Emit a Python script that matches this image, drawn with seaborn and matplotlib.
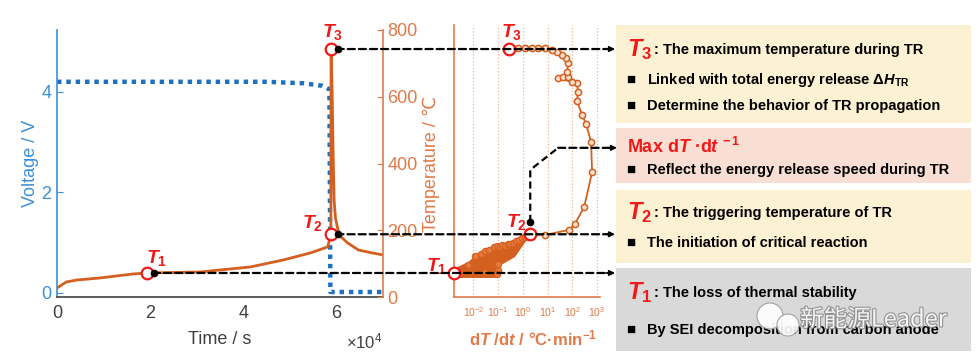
import matplotlib
matplotlib.use('Agg')
import matplotlib.pyplot as plt
import matplotlib.patheffects as pe
import seaborn as sns
from matplotlib.patches import Rectangle, ConnectionPatch, Ellipse
from matplotlib.transforms import blended_transform_factory, ScaledTranslation
from matplotlib.ticker import FuncFormatter, NullLocator

# ---- data ----
# voltage curve (time in s, voltage in V)
volt_time = [0, 45000, 53000, 57000, 58500, 58700, 58800, 70000]
volt_value = [4.2, 4.2, 4.17, 4.12, 4.05, 0.02, 0.02, 0.02]

# temperature curve (time in s, temperature in C)
temp_time = [0, 2000, 4300, 9200, 16300, 19400, 30800, 41500, 48600, 54400, 58100,
             58600, 58800, 58850, 59100, 59300, 59500, 59800, 60200, 60600, 62400,
             64700, 67700, 70000]
temp_value = [27, 45, 51, 57, 69, 72, 75, 90, 111, 132, 150,
              175, 188, 743, 600, 420, 290, 235, 210, 185, 162,
              141, 132, 126]

# characteristic points on the time plot
t_points_time = [19400, 58800, 58850]
t_points_temp = [72, 188, 743]

# dT/dt curve after T2 (rate in C/min, temperature in C)
rate_value = [2.0, 7.9, 74, 129, 302, 631, 575, 363, 251, 155, 170, 155, 98, 27, 43,
              68, 62, 68, 56, 39, 25, 15.5, 7.9, 4.2, 2.4, 1.26, 0.65, 0.28]
rate_temp = [188, 186, 201, 219, 270, 374, 464, 518, 545, 587, 614, 641, 644, 656, 659,
             659, 674, 701, 716, 725, 734, 740, 745, 746, 746, 746, 746, 743]

# dense cloud between T1 and T2 (outline + visible bubbles)
cloud_rate = [0.0016, 0.0019, 0.0063, 0.016, 0.054, 0.10, 0.21, 0.49, 1.66,
              1.66, 0.49, 0.135, 0.10, 0.0016]
cloud_temp = [62, 87, 105, 132, 147, 153, 153, 165, 186,
              177, 120, 96, 57, 57]
bubble_rate = [0.012, 0.02, 0.03, 0.045, 0.07, 0.09, 0.12, 0.15, 0.2, 0.25, 0.3,
               0.4, 0.55, 0.7, 0.9, 1.2, 0.1, 0.09, 0.1, 0.03, 0.006]
bubble_temp = [122, 130, 137, 142, 150, 153, 151, 156, 153, 158, 160,
               163, 168, 172, 176, 180, 80, 68, 100, 75, 95]

# characteristic points on the dT/dt plot
r_points_rate = [0.0017, 2.0, 0.28]
r_points_temp = [72, 188, 743]

# guide path from T2 up to Max dT/dt box
max_path_rate = [2.0, 2.0, 27]
max_path_temp = [225, 381, 447]

BLUE_AX = '#3d8fd6'
BLUE_LINE = '#1f70c0'
ORANGE_AX = '#e07a48'
ORANGE_LINE = '#d45f1e'
RED = '#f01818'
GREY_TXT = '#404040'
YELLOW_BOX = '#fdf1d3'
PINK_BOX = '#f9ded3'
GREY_BOX = '#d9d9d9'

sns.set_style('white')
plt.rcParams['font.family'] = ['Liberation Sans', 'DejaVu Sans']
plt.rcParams['mathtext.fontset'] = 'custom'
plt.rcParams['mathtext.it'] = 'Liberation Sans:italic:bold'
plt.rcParams['mathtext.rm'] = 'Liberation Sans:bold'
plt.rcParams['mathtext.bf'] = 'Liberation Sans:bold'

W, H = 979, 364
fig = plt.figure(figsize=(W / 100, H / 100), dpi=100)


def fx(x):
    return x / W


def fy(y):
    return 1 - y / H


# ---- left plot: voltage / temperature vs time ----
ax_v = fig.add_axes([fx(57), fy(297), (383 - 57) / W, (297 - 30) / H])
ax_t = ax_v.twinx()

sns.lineplot(x=volt_time, y=volt_value, ax=ax_v, color=BLUE_LINE, linewidth=3.2,
             linestyle=(0, (1, 1.1)), sort=False, estimator=None)
ax_v.lines[-1].set_dash_capstyle('butt')
sns.lineplot(x=temp_time, y=temp_value, ax=ax_t, color=ORANGE_LINE, linewidth=2,
             sort=False, estimator=None)

ax_v.set_xlim(0, 70000)
ax_v.set_ylim(-0.08, 5.23)
ax_t.set_ylim(0, 800)
ax_v.set_xticks([0, 20000, 40000, 60000])
ax_v.xaxis.set_major_formatter(FuncFormatter(lambda v, p: f'{v / 1e4:.0f}'))
ax_v.set_yticks([0, 2, 4])
ax_t.set_yticks([0, 200, 400, 600, 800])

for sp in ['top', 'right']:
    ax_v.spines[sp].set_visible(False)
ax_v.spines['left'].set_color(BLUE_AX)
ax_v.spines['bottom'].set_color(GREY_TXT)
for sp in ['top', 'left', 'bottom']:
    ax_t.spines[sp].set_visible(False)
ax_t.spines['right'].set_color(ORANGE_AX)
for sp in ax_v.spines.values():
    sp.set_linewidth(1.2)
ax_t.spines['right'].set_linewidth(1.2)

ax_v.tick_params(axis='y', direction='in', length=4, colors=BLUE_AX, labelsize=13, pad=4)
ax_v.tick_params(axis='x', direction='in', length=4, colors=GREY_TXT, labelsize=13, pad=6)
ax_t.tick_params(axis='y', direction='in', length=4, colors=ORANGE_AX, labelsize=13, pad=3)
ax_v.set_ylabel('Voltage / V', color=BLUE_AX, fontsize=13, labelpad=2)
ax_t.set_ylabel('Temperature / ℃', color=ORANGE_AX, fontsize=13, labelpad=4)
ax_v.set_xlabel('Time / s', color=GREY_TXT, fontsize=13, labelpad=6)
fig.text(fx(364), fy(341), '×10$^{\\mathregular{4}}$', color=GREY_TXT, fontsize=12,
         ha='center', va='center')

sns.scatterplot(x=t_points_time, y=t_points_temp, ax=ax_t, s=70, facecolor='white',
                edgecolor=RED, linewidth=1.6, zorder=6, clip_on=False)
dot_shift = ScaledTranslation(5 / 72, 0, fig.dpi_scale_trans)
ax_t.plot(t_points_time, t_points_temp, 'o', color='black', markersize=4.5,
          transform=ax_t.transData + dot_shift, zorder=7, clip_on=False)

t_label_offsets_left = [(7, 11), (-13, 8), (1, 12)]
for i, (tt, tv) in enumerate(zip(t_points_time, t_points_temp)):
    ax_t.annotate(f'$T_{i + 1}$', (tt, tv), xytext=t_label_offsets_left[i],
                  textcoords='offset points', color=RED, fontsize=14,
                  ha='center', va='center', annotation_clip=False, zorder=8)

# ---- middle plot: temperature vs dT/dt ----
ax_r = fig.add_axes([fx(454), fy(297), (600 - 454) / W, (297 - 25) / H])
ax_r.set_xscale('log')
ax_r.fill(cloud_rate, cloud_temp, color=ORANGE_LINE, linewidth=0, zorder=2)
sns.scatterplot(x=bubble_rate, y=bubble_temp, ax=ax_r, s=20, facecolor='#e47a3e',
                edgecolor=ORANGE_LINE, linewidth=0.9, zorder=3)
sns.lineplot(x=rate_value, y=rate_temp, ax=ax_r, color=ORANGE_LINE, linewidth=1.3,
             sort=False, estimator=None, zorder=3)
sns.scatterplot(x=rate_value, y=rate_temp, ax=ax_r, s=20, facecolor='#fbe1cf',
                edgecolor=ORANGE_LINE, linewidth=1.1, zorder=4)

ax_r.set_xlim(10 ** -2.78, 10 ** 3.12)
ax_r.set_ylim(0, 815)
ax_r.set_xticks([1e-2, 1e-1, 1e0, 1e1, 1e2, 1e3])
ax_r.xaxis.set_minor_locator(NullLocator())
ax_r.set_yticks([0, 200, 400, 600, 800])
ax_r.set_yticklabels([])
ax_r.grid(axis='x', color='#f2b48c', linestyle=':', linewidth=0.9)
ax_r.grid(axis='y', visible=False)
for sp in ['top', 'right']:
    ax_r.spines[sp].set_visible(False)
for sp in ['left', 'bottom']:
    ax_r.spines[sp].set_color(ORANGE_AX)
    ax_r.spines[sp].set_linewidth(1.2)
ax_r.tick_params(axis='both', direction='in', length=4, colors=ORANGE_AX, labelsize=7.5)
ax_r.tick_params(axis='x', pad=6)
fig.text(fx(533), fy(338), 'd$T$ /d$t$ / °C·min$^{-1}$', color=ORANGE_AX, fontsize=12,
         fontweight='bold', ha='center', va='center')

sns.scatterplot(x=r_points_rate, y=r_points_temp, ax=ax_r, s=70, facecolor='white',
                edgecolor=RED, linewidth=1.6, zorder=6, clip_on=False)
t_label_offsets_right = [(-13, 5), (-10, 9), (2, 12)]
for i, (rr, rv) in enumerate(zip(r_points_rate, r_points_temp)):
    ax_r.annotate(f'$T_{i + 1}$', (rr, rv), xytext=t_label_offsets_right[i],
                  textcoords='offset points', color=RED, fontsize=14,
                  ha='center', va='center', annotation_clip=False, zorder=8)

# ---- guide arrows ----
DASH = (0, (3.2, 1.8))


def guide(ax, x, y, x_end_px, shrink=0):
    end_tr = blended_transform_factory(fig.transFigure, ax.transData)
    line = ConnectionPatch((x, y), (fx(x_end_px - 6), y), coordsA=ax.transData,
                           coordsB=end_tr, arrowstyle='-', linestyle=DASH,
                           linewidth=1.6, color='black', shrinkA=shrink, shrinkB=0,
                           zorder=10)
    head = ConnectionPatch((fx(x_end_px - 9), y), (fx(x_end_px), y), coordsA=end_tr,
                           coordsB=end_tr, arrowstyle='-|>', mutation_scale=8,
                           linewidth=1.2, color='black', shrinkA=0, shrinkB=0,
                           zorder=10)
    fig.add_artist(line)
    fig.add_artist(head)


for tt, tv in zip(t_points_time, t_points_temp):
    guide(ax_t, tt, tv, 615, shrink=4)

ax_r.plot(max_path_rate, max_path_temp, color='black', linestyle=DASH, linewidth=1.6,
          zorder=9, clip_on=False)
ax_r.plot(max_path_rate[:1], max_path_temp[:1], 'o', color='black', markersize=4.5,
          zorder=9, clip_on=False)
guide(ax_r, max_path_rate[-1], max_path_temp[-1], 617)

# ---- explanation boxes ----
boxes = [(25, 123, YELLOW_BOX), (128, 183, PINK_BOX), (190, 263, YELLOW_BOX),
         (268, 351, GREY_BOX)]
for top, bottom, col in boxes:
    fig.add_artist(Rectangle((fx(616), fy(bottom)), (971 - 616) / W, (bottom - top) / H,
                             transform=fig.transFigure, facecolor=col,
                             edgecolor='none', zorder=0))

head_lines = [(50, '$T_3$', ': The maximum temperature during TR'),
              (213, '$T_2$', ': The triggering temperature of TR'),
              (293, '$T_1$', ': The loss of thermal stability')]
for y, lab, txt in head_lines:
    fig.text(fx(627), fy(y), lab, color=RED, fontsize=17, va='center', ha='left')
    fig.text(fx(654), fy(y), txt, color='black', fontsize=10.5, fontweight='bold',
             va='center', ha='left')

fig.text(fx(627), fy(147), 'Max d$T$ ·d$t^{\\,-1}$', color=RED, fontsize=13,
         fontweight='bold', va='center', ha='left')

bullets = [(80, 'Linked with total energy release $\\Delta$$H_{\\mathregular{TR}}$'),
           (106, 'Determine the behavior of TR propagation'),
           (170, 'Reflect the energy release speed during TR'),
           (243, 'The initiation of critical reaction'),
           (330, 'By SEI decomposition from carbon anode')]
for y, txt in bullets:
    fig.text(fx(626), fy(y), '■', color='black', fontsize=11, va='center', ha='left')
    fig.text(fx(647), fy(y), txt, color='black', fontsize=10.5, fontweight='bold',
             va='center', ha='left')

# watermark
for cx, cy, r in [(770, 316, 13), (788, 325, 11)]:
    fig.add_artist(Ellipse((fx(cx), fy(cy)), 2 * r / W, 2 * r / H, transform=fig.transFigure,
                           facecolor='white', edgecolor='#9a9a9a', linewidth=0.8,
                           alpha=0.9, zorder=20))
fig.text(fx(800), fy(320), '新能源Leader', family=['Noto Sans CJK SC', 'DejaVu Sans'],
         fontsize=17, color='white', alpha=0.9, va='center', ha='left', zorder=21,
         path_effects=[pe.withStroke(linewidth=1.6, foreground='#8a8a8a')])

fig.savefig('out.png', dpi=100)
